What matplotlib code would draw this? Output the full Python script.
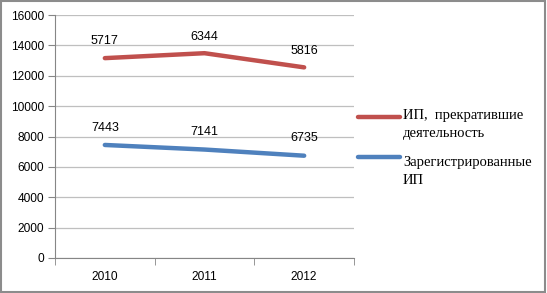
import numpy as np
import matplotlib.pyplot as plt
from matplotlib.lines import Line2D
from matplotlib.patches import Rectangle

plt.rcParams["font.serif"] = ["Liberation Serif", "Times New Roman", "DejaVu Serif"]

years = ["2010", "2011", "2012"]
registered = [7443, 7141, 6735]
closed = [5717, 6344, 5816]
closed_label = "ИП,  прекратившие\nдеятельность"
registered_label = "Зарегистрированные\nИП"

red = "#C0504D"
blue = "#4F81BD"

fig = plt.figure(figsize=(5.47, 2.93), dpi=100)
ax = fig.add_axes([55 / 547, 1 - 258 / 293, 299 / 547, 243 / 293])

x = np.arange(len(years))
reg = np.array(registered)
top = reg + np.array(closed)  # stacked line

ax.plot(x, top, color=red, lw=3.2, solid_capstyle="round", zorder=3)
ax.plot(x, reg, color=blue, lw=3.2, solid_capstyle="round", zorder=3)

for xi, yi, v in zip(x, top, closed):
    ax.annotate(str(v), (xi, yi), xytext=(0, 12), textcoords="offset points",
                ha="center", va="center", fontsize=9, family="Liberation Sans")
for xi, yi, v in zip(x, reg, registered):
    ax.annotate(str(v), (xi, yi), xytext=(0, 12.5), textcoords="offset points",
                ha="center", va="center", fontsize=9, family="Liberation Sans")

ax.set_xlim(-0.5, 2.5)
ax.set_ylim(0, 16000)
ax.set_yticks(np.arange(0, 16001, 2000))
ax.set_xticks(x)
ax.set_xticklabels(years)
ax.set_xticks(np.arange(-0.5, 2.6, 1), minor=True)
ax.tick_params(axis="x", which="major", length=0, pad=9, labelsize=8.6)
ax.tick_params(axis="x", which="minor", length=5, color="#868686", direction="out")
ax.tick_params(axis="y", length=5, color="#868686", labelsize=8.6, pad=3)
for lab in ax.get_xticklabels() + ax.get_yticklabels():
    lab.set_family("Liberation Sans")

ax.grid(axis="y", color="#BFBFBF", lw=0.9)
ax.set_axisbelow(True)
for s in ["top", "right"]:
    ax.spines[s].set_visible(False)
ax.spines["left"].set_color("#868686")
ax.spines["bottom"].set_color("#868686")

# legend drawn beside the plot area
for yk, col, lab, yt in [(0.580, red, closed_label, 0.614),
                         (0.416, blue, registered_label, 0.420)]:
    ax.add_artist(Line2D([1.013, 1.154], [yk, yk], transform=ax.transAxes,
                         color=col, lw=3.2, solid_capstyle="round", clip_on=False))
    ax.text(1.164, yt, lab, transform=ax.transAxes, ha="left", va="top",
            fontsize=10.5, family="serif", linespacing=1.5)

fig.add_artist(Rectangle((0.002, 0.003), 0.995, 0.993, transform=fig.transFigure,
                         fill=False, ec="#8C8C8C", lw=1.5))

fig.savefig("out.png", dpi=100)
